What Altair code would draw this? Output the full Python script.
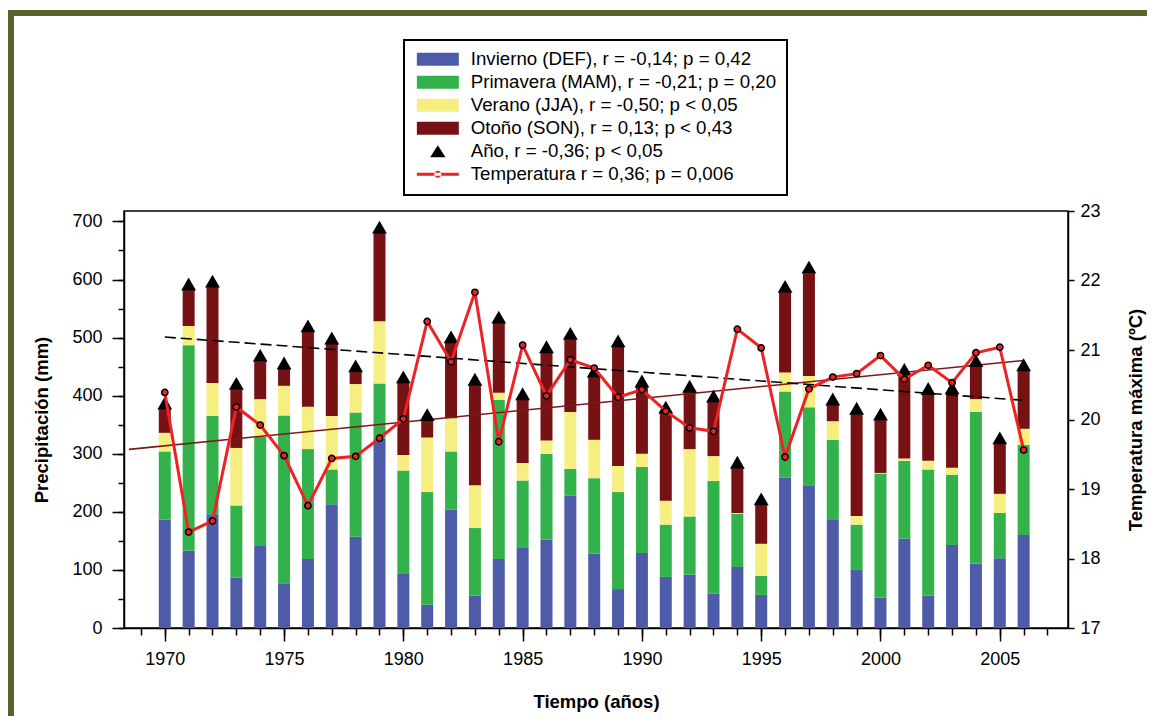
import altair as alt
import pandas as pd

# ---------------- data ----------------
years = list(range(1970, 2007))
invierno = [187, 133, 196, 87, 141, 77, 119, 213, 157, 326, 93, 40, 204, 56, 119, 139, 152, 228, 128, 67,
            129, 88, 92, 59, 105, 57, 259, 246, 186, 100, 52, 154, 56, 143, 111, 120, 160]
primavera = [117, 354, 169, 124, 188, 289, 189, 60, 214, 95, 178, 194, 100, 116, 274, 115, 148, 46, 130, 167,
             148, 90, 100, 194, 92, 33, 148, 134, 138, 78, 214, 134, 217, 121, 261, 78, 155]
verano = [32, 33, 57, 99, 65, 51, 73, 92, 49, 107, 27, 94, 57, 74, 12, 30, 23, 98, 66, 45,
          23, 41, 116, 43, 1, 55, 33, 54, 32, 15, 1, 4, 15, 12, 22, 33, 28]
otono = [41, 62, 165, 101, 65, 29, 129, 124, 21, 152, 124, 29, 130, 172, 120, 109, 151, 125, 108, 205,
         115, 151, 98, 93, 77, 67, 138, 177, 28, 175, 91, 143, 114, 127, 56, 86, 100]
temperatura = [20.39, 18.38, 18.54, 20.18, 19.92, 19.48, 18.76, 19.44, 19.47, 19.73, 20.01, 21.41, 20.83,
               21.83, 19.68, 21.07, 20.34, 20.86, 20.74, 20.32, 20.43, 20.12, 19.88, 19.83, 21.30, 21.03,
               19.46, 20.44, 20.61, 20.66, 20.92, 20.58, 20.78, 20.53, 20.96, 21.04, 19.56]

# trend lines (end points)
trend_precip_years = [1970, 2006]
trend_precip_values = [501, 392]
trend_temp_years = [1968.5, 2006]
trend_temp_values = [19.57, 20.85]

series_labels = [
    "Invierno (DEF), r = -0,14; p = 0,42",
    "Primavera (MAM), r = -0,21; p = 0,20",
    "Verano (JJA), r = -0,50; p < 0,05",
    "Otoño (SON), r = 0,13; p < 0,43",
    "Año, r = -0,36; p < 0,05",
    "Temperatura r = 0,36; p = 0,006",
]
series_colors = ["#4e5ba8", "#33b24c", "#f5ef82", "#761214", "#000000", "#ee2224"]
legend_shapes = [
    "M-1,-1H5.46V1H-1Z",
    "M-1,-1H5.46V1H-1Z",
    "M-1,-1H5.46V1H-1Z",
    "M-1,-1H5.46V1H-1Z",
    "M1.05,0.9L2.23,-0.95L3.41,0.9Z",
    "M-1,-0.23H5.46V0.23H-1Z M1.69,0A0.54,0.54,0,1,0,2.77,0A0.54,0.54,0,1,0,1.69,0Z",
]

FONT = "Arial, Liberation Sans, sans-serif"
OLIVE = "#55632e"

# ---------------- tables ----------------
seasons = [invierno, primavera, verano, otono]
rows = []
for k, vals in enumerate(seasons):
    for y, v in zip(years, vals):
        rows.append({"year": y, "season": series_labels[k], "order": k, "value": v})
bars_df = pd.DataFrame(rows)

annual_df = pd.DataFrame({
    "year": years,
    "total": [a + b + c + d for a, b, c, d in zip(invierno, primavera, verano, otono)],
})
temp_df = pd.DataFrame({"year": years, "temp": temperatura})
tp_df = pd.DataFrame({"year": trend_precip_years, "value": trend_precip_values})
tt_df = pd.DataFrame({"year": trend_temp_years, "temp": trend_temp_values})
legend_df = pd.DataFrame({"series": series_labels, "year": [1900] * len(series_labels)})
dummy = pd.DataFrame({"a": [0]})

xscale = alt.Scale(domain=[1968.5, 2007.65], nice=False, zero=False)
pscale = alt.Scale(domain=[0, 718], nice=False, zero=False)
tscale = alt.Scale(domain=[17, 23], nice=False, zero=False)

# ---------------- layers ----------------
border_left = alt.Chart(dummy).mark_rule(color=OLIVE, strokeWidth=6).encode(
    x=alt.value(-113), y=alt.value(-199), y2=alt.value(520))
border_top = alt.Chart(dummy).mark_rule(color=OLIVE, strokeWidth=6).encode(
    x=alt.value(-116), x2=alt.value(1040), y=alt.value(-198))

bars = alt.Chart(bars_df).mark_bar(size=12).encode(
    x=alt.X("year:Q", scale=xscale,
            axis=alt.Axis(orient="bottom", values=list(range(1970, 2006, 5)), tickSize=13,
                          labelPadding=9, title="Tiempo (años)", titlePadding=24, format="d")),
    y=alt.Y("value:Q", stack="zero", scale=pscale,
            axis=alt.Axis(orient="left", values=list(range(0, 701, 100)), tickSize=12,
                          labelPadding=10, title="Precipitación (mm)", titlePadding=20)),
    color=alt.Color("season:N", scale=alt.Scale(domain=series_labels[:4], range=series_colors[:4]),
                    legend=None),
    order=alt.Order("order:Q"),
)

temp_trend = alt.Chart(tt_df).mark_line(color="#7a1a1a", strokeWidth=1.6).encode(
    x=alt.X("year:Q", scale=xscale, axis=None),
    y=alt.Y("temp:Q", scale=tscale, axis=None),
)

precip_trend = alt.Chart(tp_df).mark_line(color="black", strokeWidth=1.6, strokeDash=[11, 5]).encode(
    x=alt.X("year:Q", scale=xscale, axis=None),
    y=alt.Y("value:Q", scale=pscale,
            axis=alt.Axis(orient="left", values=list(range(0, 701, 50)), tickSize=6, labels=False,
                          domain=False, title=None)),
)

triangles = alt.Chart(annual_df).mark_point(shape="triangle-up", filled=True, color="black",
                                            size=220, opacity=1, yOffset=-6).encode(
    x=alt.X("year:Q", scale=xscale,
            axis=alt.Axis(orient="bottom", values=list(range(1969, 2008)), tickSize=7, labels=False,
                          domain=False, title=None)),
    y=alt.Y("total:Q", scale=pscale, axis=None),
)

temp_line = alt.Chart(temp_df).mark_line(
    color="#ee2224", strokeWidth=3,
    point=alt.OverlayMarkDef(filled=True, fill="#ee2224", stroke="black", strokeWidth=1.5, size=40),
).encode(
    x=alt.X("year:Q", scale=xscale, axis=None),
    y=alt.Y("temp:Q", scale=tscale,
            axis=alt.Axis(orient="right", values=list(range(17, 24)), tickSize=6, labelPadding=6,
                          title="Temperatura máxima (ºC)", titleAngle=270, titleBaseline="top",
                          titlePadding=26)),
)

legend_layer = alt.Chart(legend_df).mark_point(filled=True, size=169, clip=True, opacity=1).encode(
    x=alt.X("year:Q", scale=xscale, axis=None),
    color=alt.Color("series:N", scale=alt.Scale(domain=series_labels, range=series_colors),
                    legend=alt.Legend(title=None, orient="none", legendX=280, legendY=-171,
                                      padding=10, strokeColor="black", fillColor="white",
                                      labelFontSize=18.7, labelFont=FONT, labelColor="black",
                                      labelOffset=38, rowPadding=3, symbolSize=169,
                                      symbolStrokeWidth=0, labelLimit=500)),
    shape=alt.Shape("series:N", scale=alt.Scale(domain=series_labels, range=legend_shapes)),
)

chart = alt.layer(
    border_left, border_top, bars, temp_trend, precip_trend, triangles, temp_line, legend_layer
).resolve_scale(
    y="independent", color="independent", shape="independent"
).resolve_axis(
    x="independent", y="independent"
).properties(
    width=944, height=417,
    autosize=alt.AutoSizeParams(type="none"),
    padding={"left": 116, "top": 203, "right": 79, "bottom": 88},
    background="white",
).configure_view(
    stroke="black", strokeWidth=1.5
).configure_legend(
    strokeWidth=2
).configure_axis(
    grid=False, labelFont=FONT, titleFont=FONT, labelFontSize=18, titleFontSize=18.5,
    titleFontWeight="bold", labelColor="black", titleColor="black", tickColor="black",
    domainColor="black", tickWidth=1.5, domainWidth=1.5,
)

chart.save("out.html", embed_options={"renderer": "svg", "actions": False})
